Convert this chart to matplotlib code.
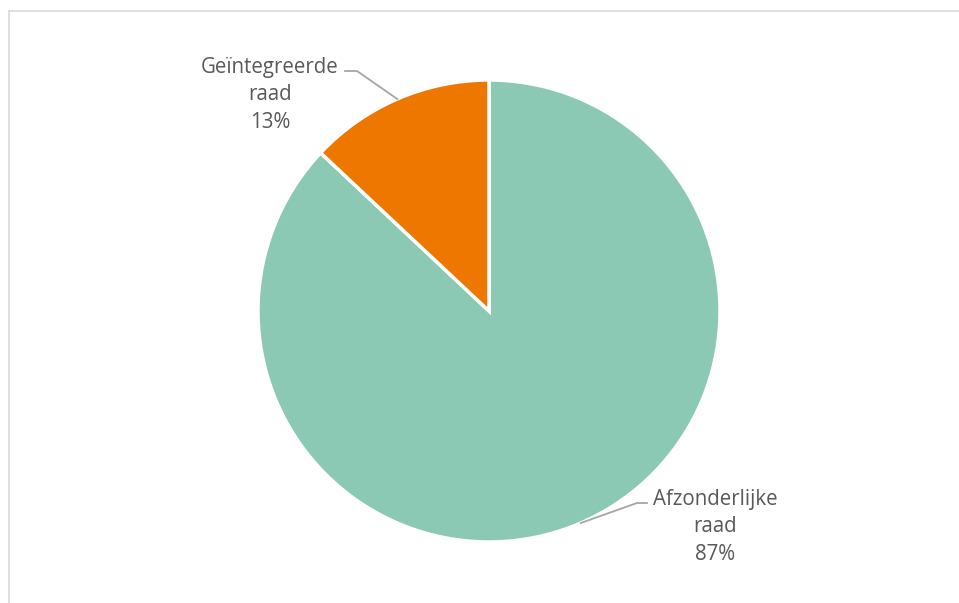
import numpy as np
import matplotlib.pyplot as plt
from matplotlib.lines import Line2D

labels = ["Afzonderlijke\nraad", "Geïntegreerde\nraad"]
shares = [87, 13]
colors = ["#8BC9B5", "#EE7700"]

W, H = 959, 603
fig = plt.figure(figsize=(W / 100, H / 100), dpi=100)
plt.rcParams["font.family"] = ["Open Sans", "DejaVu Sans"]

# pie centre / radius in pixels
cx, cy, r = 489, 311, 231
ax = fig.add_axes([(cx - r) / W, (H - cy - r) / H, 2 * r / W, 2 * r / H])
wedges, _ = ax.pie(shares, colors=colors, startangle=90, counterclock=False,
                   wedgeprops=dict(edgecolor="white", linewidth=2.5))
ax.set_xlim(-1, 1)
ax.set_ylim(-1, 1)
ax.set_aspect("equal")
ax.axis("off")


def px(x, y):
    return (x - cx) / r, (cy - y) / r


# label positions (text centre) and elbow of leader line, in pixels
label_pos = [(715, 527), (270, 95)]
elbow = [(637, 503), (357, 71)]
line_end = [(647, 503), (345, 71)]

for w, lab, s, tp, el, le in zip(wedges, labels, shares, label_pos, elbow, line_end):
    mid = np.deg2rad((w.theta1 + w.theta2) / 2)
    ax_pt = (np.cos(mid), np.sin(mid))
    ex, ey = px(*el)
    lx, ly = px(*le)
    ax.add_line(Line2D([ax_pt[0], ex, lx], [ax_pt[1], ey, ly], color="#A6A6A6",
                       lw=1.3, clip_on=False))
    tx, ty = px(*tp)
    ax.text(tx, ty, f"{lab}\n{s}%", ha="center", va="center", fontsize=14.8,
            color="#595959", linespacing=1.42, clip_on=False)

# chart area border (top and left edges visible)
fig.add_artist(Line2D([8.5 / W, 8.5 / W], [0, 1 - 11 / H], color="#D9D9D9", lw=1.2,
                      transform=fig.transFigure))
fig.add_artist(Line2D([8.5 / W, 1], [1 - 11 / H, 1 - 11 / H], color="#D9D9D9", lw=1.2,
                      transform=fig.transFigure))

fig.savefig("out.png", dpi=100)
